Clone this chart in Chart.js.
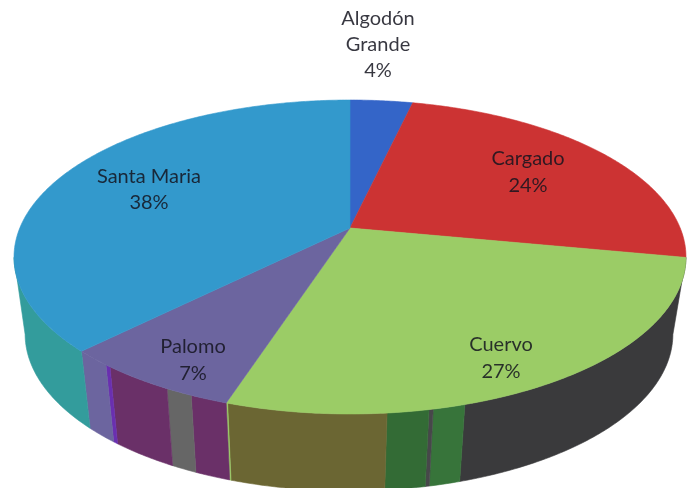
<!DOCTYPE html>
<html>
<head>
<meta charset="utf-8">
<style>html,body{margin:0;padding:0;background:#fff}canvas{display:block}</style>
<script src="https://cdn.jsdelivr.net/npm/chart.js@4"></script>
</head>
<body>
<canvas id="c" width="693" height="488"></canvas>
<script>
// Data
const categories = ['Algodón Grande', 'Cargado', 'Cuervo', 'Palomo', 'Santa Maria'];
const shares = [3.6, 24.4, 27, 7.5, 37.5];
const shareLabels = ['4%', '24%', '27%', '7%', '38%'];
const sliceColors = ['#3465C8', '#CC3333', '#9BCC66', '#6C659F', '#3399CC'];
// Side wall bands, clockwise from the top of the pie (hidden back parts are transparent)
const wallBands = [28, 17.38, 1.31, 0.17, 1.68, 6.40, 0.06, 1.54, 1.13, 3.01, 0.24, 1.58, 9.5, 28];
const wallColors = ['rgba(0,0,0,0)', '#3A3A3C', '#37743A', '#47474A', '#336B35', '#6B6633', '#9BCC66',
  '#6A3068', '#666666', '#6A3068', '#6A2FB0', '#6C659F', '#339C9C', 'rgba(0,0,0,0)'];

// Perspective view of the pie disc
const view = {cx: 350, apexY: 228, R: 330.2, a: 109.5, c: 0.1847,
  ellipseCY: 257, wallCX: 349, wallCY: 334, wallSX: 0.964, wallSY: 1.0};
function rim(angle) {
  const t = angle + Math.PI / 2, d = 1 + view.c * Math.cos(t);
  return [view.cx + view.R * Math.sin(t) / d, (view.apexY - view.a * Math.cos(t)) / d];
}
function foot(angle) {
  const p = rim(angle);
  return [view.wallCX + (p[0] - view.cx) * view.wallSX, view.wallCY + (p[1] - view.ellipseCY) * view.wallSY];
}
function steps(a0, a1) { return Math.max(2, Math.ceil(Math.abs(a1 - a0) / 0.01)); }

Chart.ArcElement.prototype.draw = function (ctx) {
  const o = this.options, a0 = this.startAngle, a1 = this.endAngle, n = steps(a0, a1);
  if (o.backgroundColor === 'rgba(0,0,0,0)') return;
  const isWall = this.$context && this.$context.dataset.wall;
  ctx.save();
  ctx.beginPath();
  if (isWall) {
    for (let i = 0; i <= n; i++) { const p = rim(a0 + (a1 - a0) * i / n); ctx[i ? 'lineTo' : 'moveTo'](p[0], p[1]); }
    for (let i = n; i >= 0; i--) { const p = foot(a0 + (a1 - a0) * i / n); ctx.lineTo(p[0], p[1]); }
  } else {
    ctx.moveTo(view.cx, view.apexY);
    for (let i = 0; i <= n; i++) { const p = rim(a0 + (a1 - a0) * i / n); ctx.lineTo(p[0], p[1]); }
  }
  ctx.closePath();
  ctx.fillStyle = o.backgroundColor;
  ctx.fill();
  ctx.strokeStyle = o.backgroundColor;
  ctx.lineWidth = 0.6;
  ctx.stroke();
  ctx.restore();
};

const labelSpots = [[378, 19, 26], [528, 159, 27], [501, 345, 27], [193, 347, 27], [149, 177, 26]];
const labelLines = [['Algodón', 'Grande'], ['Cargado'], ['Cuervo'], ['Palomo'], ['Santa Maria']];
const labelPlugin = {
  id: 'sliceLabels',
  afterDraw(chart) {
    const ctx = chart.ctx;
    ctx.save();
    ctx.font = '20px Lato, "Open Sans", sans-serif';
    ctx.textAlign = 'center';
    ctx.textBaseline = 'middle';
    ctx.fillStyle = 'rgba(20,20,30,0.85)';
    labelLines.forEach((lines, i) => {
      const [x, y, dy] = labelSpots[i];
      lines.concat(shareLabels[i]).forEach((s, k) => ctx.fillText(s, x, y + k * dy));
    });
    ctx.restore();
  }
};

new Chart(document.getElementById('c'), {
  type: 'pie',
  data: {
    labels: categories,
    datasets: [
      {data: shares, backgroundColor: sliceColors, borderWidth: 0},
      {data: wallBands, backgroundColor: wallColors, borderWidth: 0, wall: true}
    ]
  },
  options: {
    responsive: false,
    animation: false,
    plugins: {legend: {display: false}, tooltip: {enabled: false}}
  },
  plugins: [labelPlugin]
});
</script>
</body>
</html>
